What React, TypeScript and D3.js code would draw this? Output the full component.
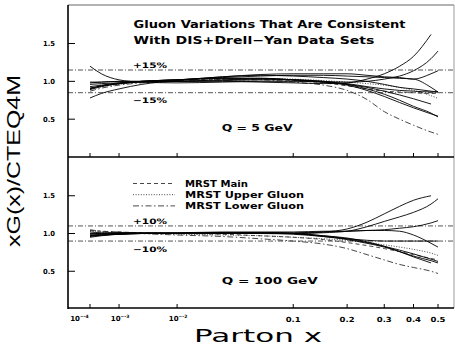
import React from "react";
import * as d3 from "d3";

// ---------- data ----------
const xGrid = [1e-4, 3e-4, 1e-3, 3e-3, 0.01, 0.03, 0.06, 0.1, 0.15, 0.2, 0.25, 0.3, 0.35, 0.4, 0.47, 0.5];

// Q = 5 GeV : CTEQ gluon variations (solid)
const topSolid1 = [1.2, 1.1, 1.02, 0.99, 0.98, 0.99, 1.0, 1.0, 0.99, 0.97, 0.93, 0.9, 0.88, 0.87, 0.86, 0.86];
const topSolid2 = [0.78, 0.84, 0.9, 0.96, 1.01, 1.06, 1.08, 1.07, 1.05, 1.03, 1.0, 0.96, 0.92, 0.9, 0.87, 0.86];
const topSolid3 = [0.99, 0.99, 1.0, 1.0, 1.0, 1.0, 0.99, 0.98, 0.97, 0.98, 1.03, 1.1, 1.2, 1.33, 1.62, null];
const topSolid4 = [0.96, 0.97, 0.98, 0.99, 1.0, 1.02, 1.03, 1.02, 1.0, 0.99, 1.0, 1.03, 1.07, 1.14, 1.3, 1.4];
const topSolid5 = [0.93, 0.95, 0.98, 1.0, 1.02, 1.06, 1.09, 1.1, 1.1, 1.1, 1.08, 1.06, 1.05, 1.03, 1.1, 1.14];
const topSolid6 = [0.91, 0.94, 0.97, 1.0, 1.02, 1.05, 1.07, 1.08, 1.08, 1.07, 1.06, 1.05, 1.04, 1.03, 0.92, 0.86];
const topSolid7 = [0.9, 0.94, 0.97, 1.0, 1.02, 1.04, 1.04, 1.02, 0.99, 0.96, 0.92, 0.87, 0.82, 0.77, 0.7, null];
const topSolid8 = [0.89, 0.93, 0.97, 1.0, 1.02, 1.04, 1.04, 1.02, 0.99, 0.95, 0.88, 0.8, 0.72, 0.65, 0.57, 0.54];
const topSolid9 = [0.98, 0.99, 1.0, 1.0, 1.0, 1.01, 1.02, 1.02, 1.0, 0.96, 0.9, 0.83, 0.75, 0.67, 0.58, 0.53];
// Q = 5 GeV : MRST
const topMrstMain = [0.91, 0.94, 0.97, 0.99, 1.01, 1.03, 1.03, 1.01, 0.98, 0.94, 0.9, 0.87, 0.86, 0.85, 0.84, 0.84];
const topMrstUpper = [0.9, 0.93, 0.96, 0.99, 1.01, 1.03, 1.04, 1.03, 1.01, 0.99, 0.97, 0.95, 0.92, 0.88, 0.81, 0.775];
const topMrstLower = [0.87, 0.91, 0.95, 0.98, 1.0, 1.02, 1.02, 0.99, 0.95, 0.88, 0.76, 0.6, 0.5, 0.42, 0.33, 0.3];

// Q = 100 GeV : CTEQ gluon variations (solid)
const botSolid1 = [0.97, 0.98, 0.99, 1.0, 1.0, 1.0, 1.0, 1.0, 1.02, 1.06, 1.15, 1.26, 1.36, 1.44, 1.5, null];
const botSolid2 = [0.98, 0.99, 1.0, 1.0, 1.0, 1.0, 1.0, 1.0, 1.01, 1.03, 1.09, 1.16, 1.22, 1.28, 1.39, 1.46];
const botSolid3 = [0.99, 1.0, 1.0, 1.0, 1.0, 1.01, 1.01, 1.01, 1.02, 1.03, 1.04, 1.05, 1.07, 1.09, 1.14, 1.17];
const botSolid4 = [1.02, 1.01, 1.01, 1.01, 1.01, 1.02, 1.02, 1.02, 1.03, 1.03, 1.04, 1.04, 1.03, 0.98, 0.87, 0.82];
const botSolid5 = [0.96, 0.98, 0.99, 1.0, 1.0, 1.0, 1.0, 0.99, 0.96, 0.93, 0.91, 0.9, 0.9, 0.9, 0.9, 0.9];
const botSolid6 = [0.95, 0.97, 0.99, 1.0, 1.0, 1.01, 1.01, 1.0, 0.97, 0.93, 0.88, 0.83, 0.78, 0.73, 0.66, 0.63];
const botSolid7 = [1.0, 1.0, 1.01, 1.01, 1.01, 1.01, 1.01, 1.0, 0.96, 0.92, 0.87, 0.82, 0.76, 0.7, 0.64, 0.61];
const botSolid8 = [0.97, 0.98, 0.99, 1.0, 1.0, 1.01, 1.01, 1.0, 0.97, 0.94, 0.89, 0.83, 0.76, 0.69, 0.61, null];
// Q = 100 GeV : MRST
const botMrstMain = [1.04, 1.03, 1.02, 1.01, 1.0, 0.99, 0.97, 0.95, 0.92, 0.88, 0.84, 0.8, 0.76, 0.72, 0.67, 0.65];
const botMrstUpper = [1.03, 1.02, 1.01, 1.0, 0.99, 0.98, 0.97, 0.95, 0.93, 0.91, 0.88, 0.85, 0.82, 0.79, 0.74, 0.71];
const botMrstLower = [1.05, 1.03, 1.02, 1.0, 0.98, 0.96, 0.93, 0.9, 0.86, 0.8, 0.72, 0.65, 0.59, 0.55, 0.5, 0.47];

const xTickValues = [1e-4, 1e-3, 1e-2, 0.1, 0.2, 0.3, 0.4, 0.5];
const xTickLabels = ["10|-4", "10|-3", "10|-2", "0.1", "0.2", "0.3", "0.4", "0.5"];
const yTickValues = [0.5, 1.0, 1.5];
const yTickLabels = ["0.5", "1.0", "1.5"];
const topBand = [1.15, 0.85];
const botBand = [1.1, 0.9];
const topBandLabels = ["+15%", "\u221215%"];
const botBandLabels = ["+10%", "\u221210%"];
const legendLabels = ["MRST Main", "MRST Upper Gluon", "MRST Lower Gluon"];

// ---------- layout ----------
const W = 455;
const H = 347;
const left = 68;
const right = 454;
const x = d3.scalePow().exponent(Math.log10(2)).domain([1e-4, 0.5]).range([90, 438]);
const yTop = d3.scaleLinear().domain([0, 2]).range([157, 5.7]);
const yBot = d3.scaleLinear().domain([0, 2]).range([309, 158]);

const dashMain = "4,3";
const dashUpper = "1,1.6";
const dashLower = "6,2.5,1.5,2.5";
const font = "'DejaVu Sans', Verdana, sans-serif";

function makePath(vals: (number | null)[], y: d3.ScaleLinear<number, number>) {
  const pts = xGrid.map((xv, i) => [xv, vals[i]] as [number, number | null]);
  const gen = d3
    .line<[number, number | null]>()
    .defined((d) => d[1] != null)
    .x((d) => x(d[0]))
    .y((d) => y(d[1] as number))
    .curve(d3.curveMonotoneX);
  return gen(pts) || "";
}

function Panel({
  y,
  top,
  bottom,
  solids,
  mrst,
  band,
  bandLabels,
  bandLabelY,
}: any) {
  return (
    <g>
      {/* band lines */}
      {band.map((b: number, i: number) => (
        <line
          key={"b" + i}
          x1={left}
          x2={right}
          y1={y(b)}
          y2={y(b)}
          stroke="#555"
          strokeWidth={1}
          strokeDasharray="5,2,1,2"
        />
      ))}
      {bandLabels.map((t: string, i: number) => (
        <text key={"bl" + i} x={133} y={bandLabelY[i]} fontFamily={font} fontWeight="bold" fontSize={7.5} textLength={34} lengthAdjust="spacingAndGlyphs">
          {t}
        </text>
      ))}
      {/* y ticks */}
      {yTickValues.map((v, i) => (
        <g key={"yt" + i}>
          <line x1={left} x2={left + 7} y1={y(v)} y2={y(v)} stroke="#000" strokeWidth={1} />
          <text x={55} y={y(v) + 2.5} textAnchor="end" fontFamily={font} fontWeight="bold" fontSize={7} textLength={12} lengthAdjust="spacingAndGlyphs">
            {yTickLabels[i]}
          </text>
        </g>
      ))}
      {/* x ticks */}
      {xTickValues.map((v, i) => (
        <line key={"xt" + i} x1={x(v)} x2={x(v)} y1={bottom} y2={bottom - 4} stroke="#000" strokeWidth={1} />
      ))}
      {/* curves */}
      {mrst.map((m: any, i: number) => (
        <path key={"m" + i} d={makePath(m.vals, y)} fill="none" stroke="#333" strokeWidth={0.9} strokeDasharray={m.dash} />
      ))}
      {solids.map((s: any, i: number) => (
        <path key={"s" + i} d={makePath(s, y)} fill="none" stroke="#000" strokeWidth={0.9} />
      ))}
    </g>
  );
}

export default function App() {
  return (
    <svg width={W} height={H} style={{ position: "absolute", left: 0, top: 0, background: "#fff" }}>
      <rect x={0} y={0} width={W} height={H} fill="#fff" />
      <Panel
        y={yTop}
        top={5}
        bottom={157}
        solids={[topSolid1, topSolid2, topSolid3, topSolid4, topSolid5, topSolid6, topSolid7, topSolid8, topSolid9]}
        mrst={[
          { vals: topMrstMain, dash: dashMain },
          { vals: topMrstUpper, dash: dashUpper },
          { vals: topMrstLower, dash: dashLower },
        ]}
        band={topBand}
        bandLabels={topBandLabels}
        bandLabelY={[68, 102.5]}
      />
      <Panel
        y={yBot}
        top={157}
        bottom={308}
        solids={[botSolid1, botSolid2, botSolid3, botSolid4, botSolid5, botSolid6, botSolid7, botSolid8]}
        mrst={[
          { vals: botMrstMain, dash: dashMain },
          { vals: botMrstUpper, dash: dashUpper },
          { vals: botMrstLower, dash: dashLower },
        ]}
        band={botBand}
        bandLabels={botBandLabels}
        bandLabelY={[224, 251.5]}
      />
      {/* frame */}
      <line x1={left} x2={right} y1={5} y2={5} stroke="#666" strokeWidth={1} />
      <line x1={right} x2={right} y1={5} y2={308} stroke="#999" strokeWidth={1} />
      <line x1={left} x2={left} y1={5} y2={309} stroke="#000" strokeWidth={1.6} />
      <line x1={left} x2={right} y1={157} y2={157} stroke="#000" strokeWidth={1.6} />
      <line x1={left} x2={right} y1={308} y2={308} stroke="#000" strokeWidth={1.6} />

      {/* titles */}
      <text x={133.5} y={27.5} fontFamily={font} fontWeight="bold" fontSize={10.5} textLength={272} lengthAdjust="spacingAndGlyphs">
        Gluon Variations That Are Consistent
      </text>
      <text x={133.5} y={44} fontFamily={font} fontWeight="bold" fontSize={10.5} textLength={241} lengthAdjust="spacingAndGlyphs">
        With DIS+Drell{"\u2212"}Yan Data Sets
      </text>
      <text x={221.7} y={130.5} fontFamily={font} fontWeight="bold" fontSize={9} textLength={71} lengthAdjust="spacingAndGlyphs">
        Q = 5 GeV
      </text>
      <text x={221.7} y={284} fontFamily={font} fontWeight="bold" fontSize={9} textLength={96} lengthAdjust="spacingAndGlyphs">
        Q = 100 GeV
      </text>

      {/* legend */}
      {legendLabels.map((t, i) => (
        <g key={"lg" + i}>
          <line
            x1={133}
            x2={175}
            y1={183.5 + i * 11.2}
            y2={183.5 + i * 11.2}
            stroke="#333"
            strokeWidth={0.9}
            strokeDasharray={[dashMain, dashUpper, dashLower][i]}
          />
          <text x={185} y={187 + i * 11.2} fontFamily={font} fontWeight="bold" fontSize={9} textLength={[63, 119, 119][i]} lengthAdjust="spacingAndGlyphs">
            {t}
          </text>
        </g>
      ))}

      {/* x tick labels */}
      {xTickValues.map((v, i) => {
        const parts = xTickLabels[i].split("|");
        if (parts.length === 2) {
          const cx = i === 0 ? 79.5 : x(v) + 1;
          return (
            <text key={"xl" + i} x={cx} y={320.5} textAnchor="middle" fontFamily={font} fontWeight="bold" fontSize={7}>
              {parts[0]}
              <tspan dy={-3} fontSize={4.5}>
                {"\u2212" + parts[1]}
              </tspan>
            </text>
          );
        }
        return (
          <text key={"xl" + i} x={x(v)} y={321.5} textAnchor="middle" fontFamily={font} fontWeight="bold" fontSize={7} textLength={15} lengthAdjust="spacingAndGlyphs">
            {parts[0]}
          </text>
        );
      })}

      {/* axis titles */}
      <text x={258} y={341.5} textAnchor="middle" fontFamily={font} fontSize={17} textLength={128} lengthAdjust="spacingAndGlyphs">
        Parton x
      </text>
      <text
        transform="translate(20,161) rotate(-90)"
        textAnchor="middle"
        fontFamily="'Liberation Sans', Arial, sans-serif"
        fontSize={19}
        textLength={172}
        lengthAdjust="spacingAndGlyphs"
      >
        xG(x)/CTEQ4M
      </text>
    </svg>
  );
}
